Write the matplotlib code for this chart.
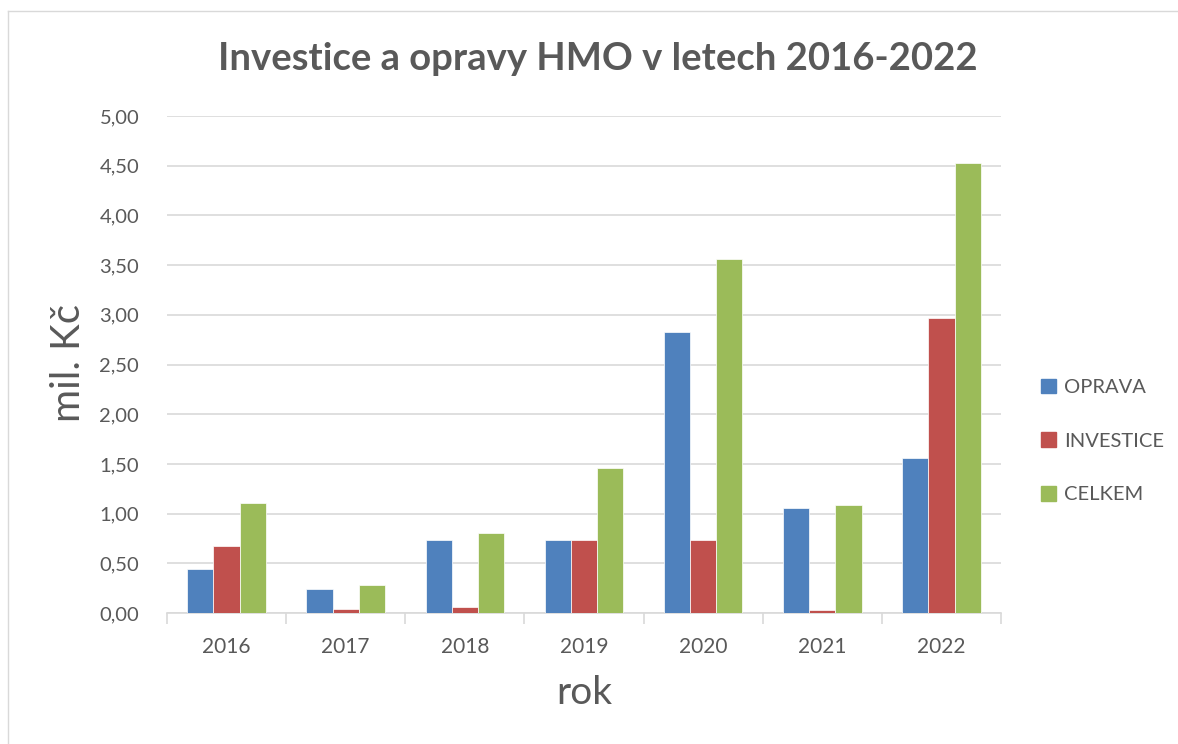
import matplotlib.pyplot as plt
import numpy as np
from matplotlib.lines import Line2D

plt.rcParams['font.family'] = ['Lato', 'DejaVu Sans']

years = ['2016', '2017', '2018', '2019', '2020', '2021', '2022']
oprava = [0.44, 0.24, 0.73, 0.73, 2.83, 1.06, 1.56]
investice = [0.67, 0.04, 0.06, 0.73, 0.73, 0.03, 2.97]
celkem = [1.11, 0.28, 0.80, 1.46, 3.56, 1.09, 4.53]
series = ['OPRAVA', 'INVESTICE', 'CELKEM']
colors = ['#4f81bd', '#c0504d', '#9bbb59']
text_col = '#595959'

fig = plt.figure(figsize=(11.78, 7.44), dpi=100)
ax = fig.add_axes([167 / 1178, 1 - 613 / 744, (1001 - 167) / 1178, (613 - 116) / 744])

# chart border
fig.add_artist(Line2D([8 / 1178, 8 / 1178], [0, 1 - 11 / 744], color='#d9d9d9', lw=1))
fig.add_artist(Line2D([8 / 1178, 1], [1 - 11 / 744, 1 - 11 / 744], color='#d9d9d9', lw=1))

x = np.arange(len(years))
w = 0.22
for i, (vals, name) in enumerate(zip([oprava, investice, celkem], series)):
    ax.bar(x + (i - 1) * w, vals, w, color=colors[i], label=name,
           edgecolor='white', linewidth=0.5, zorder=3)

ax.set_xlim(-0.5, len(years) - 0.5)
ax.set_ylim(0, 5)
ax.set_yticks(np.arange(0, 5.01, 0.5))
ax.set_yticklabels([f'{v:.2f}'.replace('.', ',') for v in np.arange(0, 5.01, 0.5)],
                   fontsize=14.5, color=text_col)
ax.tick_params(axis='y', length=0, pad=20)
ax.grid(axis='y', color='#d9d9d9', lw=1.2, zorder=0)

ax.set_xticks(np.arange(-0.5, len(years), 1))
ax.set_xticklabels([])
ax.set_xticks(x, minor=True)
ax.set_xticklabels(years, minor=True, fontsize=15, color=text_col)
ax.tick_params(axis='x', which='major', length=8, color='#d9d9d9', width=1.2)
ax.tick_params(axis='x', which='minor', length=0, pad=17)

for s in ['top', 'right', 'left']:
    ax.spines[s].set_visible(False)
ax.spines['bottom'].set_color('#d9d9d9')
ax.spines['bottom'].set_linewidth(1.2)

fig.text(598 / 1178, 1 - 59 / 744, 'Investice a opravy HMO v letech 2016-2022',
         ha='center', va='center', fontsize=27.5, fontweight='bold', color=text_col)
fig.text(584 / 1178, 1 - 693 / 744, 'rok', ha='center', va='center',
         fontsize=28, color=text_col)
fig.text(68 / 1178, 1 - 363 / 744, 'mil. Kč', ha='center', va='center',
         fontsize=29, color=text_col, rotation=90)

handles = [plt.Rectangle((0, 0), 1, 1, color=c) for c in colors]
fig.legend(handles, series, loc='center left', bbox_to_anchor=(1023 / 1178, 1 - 441 / 744),
           frameon=False, fontsize=14.5, labelcolor=text_col, handlelength=0.75,
           handleheight=0.75, handletextpad=0.4, labelspacing=1.8)

fig.savefig('out.png', dpi=100)
